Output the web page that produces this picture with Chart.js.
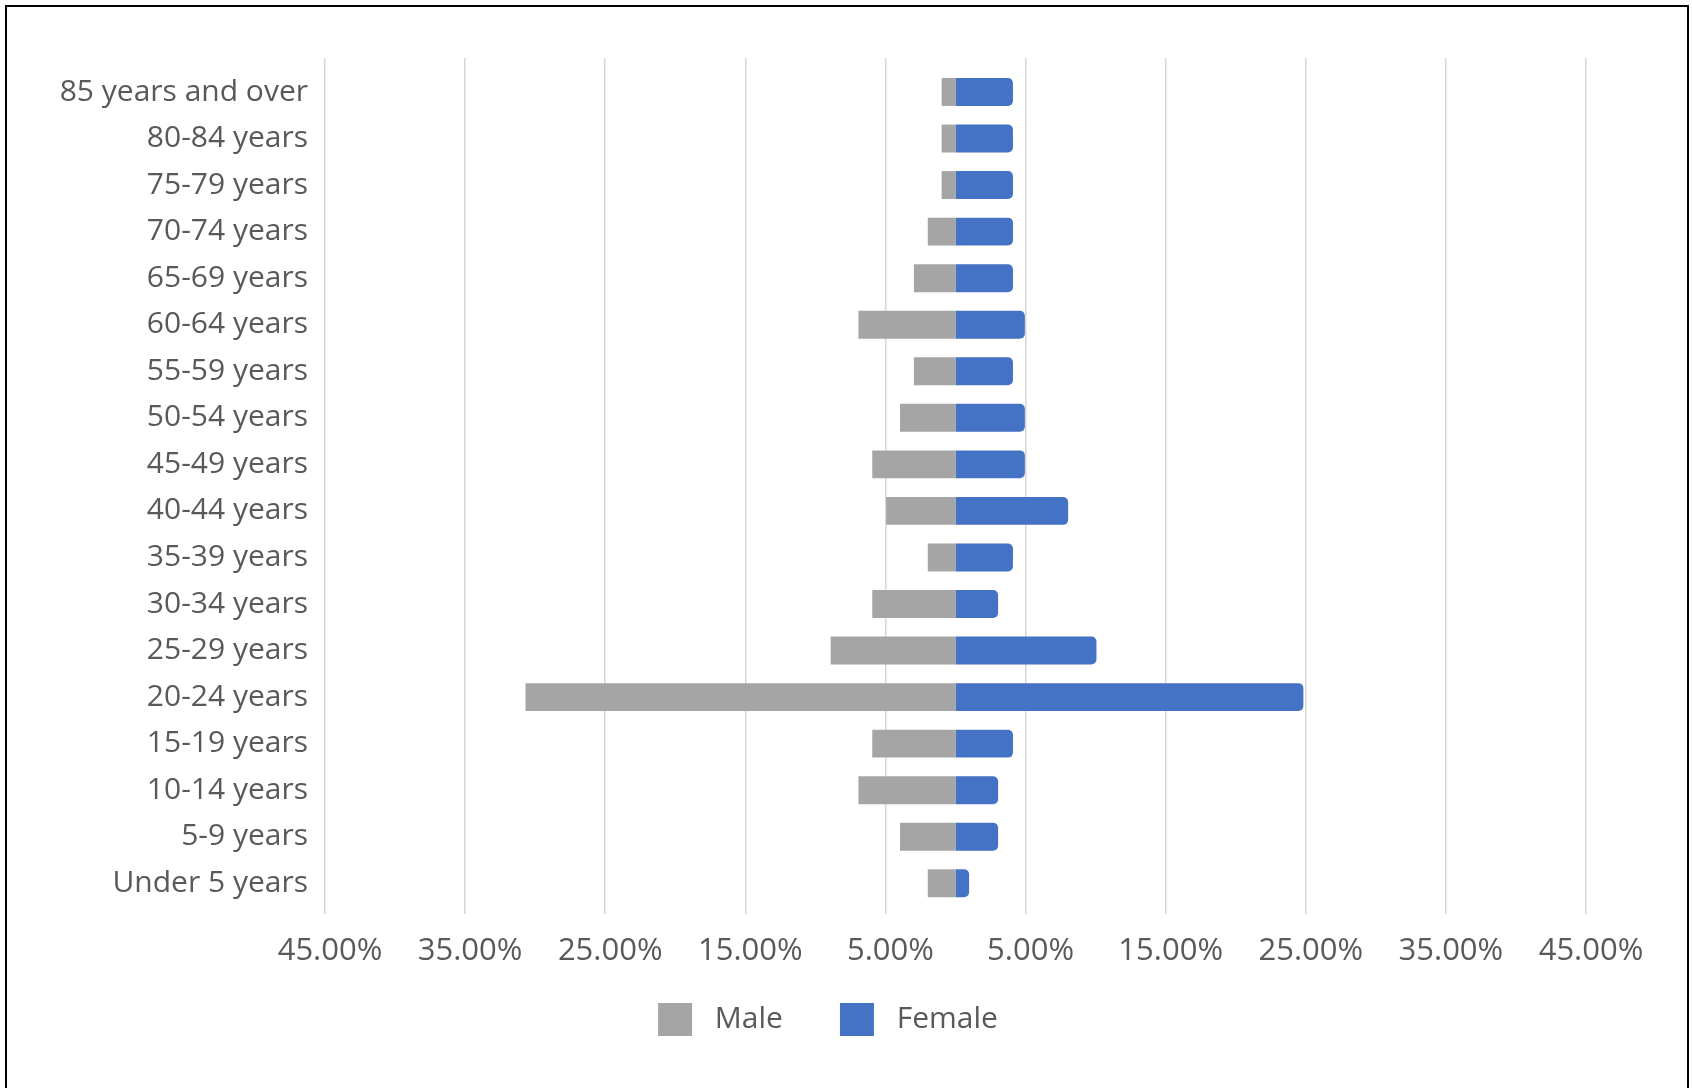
<!DOCTYPE html>
<html>
<head>
<meta charset="utf-8">
<title>Population by age and sex</title>
<script src="https://cdn.jsdelivr.net/npm/chart.js@4.4.1/dist/chart.umd.min.js"></script>
<style>
  html, body { margin: 0; padding: 0; background: #ffffff; }
  #wrap { position: relative; width: 1692px; height: 1088px; overflow: hidden; }
  #frame {
    position: absolute; left: 5px; top: 5px; width: 1684px; height: 1100px;
    box-sizing: border-box; border: 2px solid #000; border-bottom: none;
    pointer-events: none;
  }
  canvas { position: absolute; left: 0; top: 0; }
</style>
</head>
<body>
<div id="wrap">
  <canvas id="pyramid" width="1692" height="1088"></canvas>
  <div id="frame"></div>
</div>
<script>
// Age groups, oldest at the top
const ageGroups = [
  '85 years and over', '80-84 years', '75-79 years', '70-74 years',
  '65-69 years', '60-64 years', '55-59 years', '50-54 years',
  '45-49 years', '40-44 years', '35-39 years', '30-34 years',
  '25-29 years', '20-24 years', '15-19 years', '10-14 years',
  '5-9 years', 'Under 5 years'
];

// Share of each sex in each age group, in percent
const malePct = [
  0.99, 0.99, 0.99, 1.98, 2.97, 6.93, 2.97, 3.96, 5.94,
  4.95, 1.98, 5.94, 8.91, 30.69, 5.94, 6.93, 3.96, 1.98
];
const femalePct = [
  4.10, 4.10, 4.10, 4.10, 4.10, 4.95, 4.10, 4.95, 4.95,
  8.04, 4.10, 3.04, 10.06, 24.83, 4.10, 3.04, 3.04, 0.97
];

// Value axis ticks (percent); shown without sign on both sides
const xTicks = [-45, -35, -25, -15, -5, 5, 15, 25, 35, 45];

const seriesNames = ['Male', 'Female'];
const seriesColors = ['#a5a5a5', '#4472c4'];

const textColor = '#595959';
const fontFamily = "'Open Sans', 'Noto Sans', sans-serif";

// Males plotted to the left of zero, females to the right
const maleData = ageGroups.map((_, i) => ({ y: i, x: -malePct[i] }));
const femaleData = ageGroups.map((_, i) => ({ y: i, x: femalePct[i] }));

new Chart(document.getElementById('pyramid'), {
  type: 'bar',
  data: {
    datasets: [
      {
        label: seriesNames[0],
        data: maleData,
        backgroundColor: seriesColors[0],
        borderWidth: 0,
        borderRadius: 0,
        barPercentage: 0.6,
        categoryPercentage: 1
      },
      {
        label: seriesNames[1],
        data: femaleData,
        backgroundColor: seriesColors[1],
        borderWidth: 0,
        borderRadius: 5,
        borderSkipped: 'start',
        barPercentage: 0.6,
        categoryPercentage: 1
      }
    ]
  },
  options: {
    indexAxis: 'y',
    responsive: false,
    animation: false,
    layout: { padding: { top: 58, left: 0, right: 36, bottom: 42 } },
    plugins: {
      tooltip: { enabled: false },
      legend: {
        position: 'bottom',
        labels: {
          color: textColor,
          font: { family: fontFamily, size: 30 },
          boxWidth: 34,
          boxHeight: 33,
          padding: 57,
          useBorderRadius: true,
          borderRadius: 3,
          generateLabels(chart) {
            return chart.data.datasets.map((ds, i) => ({
              text: ' ' + ds.label,
              fillStyle: ds.backgroundColor,
              strokeStyle: ds.backgroundColor,
              lineWidth: 0,
              hidden: false,
              datasetIndex: i,
              fontColor: textColor
            }));
          }
        }
      }
    },
    scales: {
      x: {
        type: 'linear',
        stacked: true,
        min: -45,
        max: 45,
        afterBuildTicks(scale) {
          scale.ticks = xTicks.map(v => ({ value: v }));
        },
        afterFit(scale) { scale.height = 32; },
        ticks: {
          color: textColor,
          font: { family: fontFamily, size: 31 },
          // mirrored labels are not clipped to the thin axis box;
          // the negative padding moves them back below the plot
          mirror: true,
          padding: -56,
          labelOffset: 5,
          maxRotation: 0,
          autoSkip: false,
          callback: v => Math.abs(v).toFixed(2) + '%'
        },
        grid: { color: '#d6d6d6', lineWidth: 1.5, drawTicks: false },
        border: { display: false }
      },
      y: {
        type: 'linear',
        stacked: true,
        reverse: true,
        offset: false,
        min: -0.73,
        max: 17.66,
        afterBuildTicks(scale) {
          scale.ticks = ageGroups.map((_, i) => ({ value: i }));
        },
        afterFit(scale) { scale.width = 325; },
        ticks: {
          color: textColor,
          font: { family: fontFamily, size: 30 },
          padding: 17,
          autoSkip: false,
          callback: v => ageGroups[v]
        },
        grid: { display: false, drawTicks: false },
        border: { display: false }
      },
      rightGap: {
        type: 'linear',
        position: 'right',
        display: true,
        afterFit(scale) { scale.width = 70; },
        ticks: { display: false },
        grid: { display: false, drawTicks: false },
        border: { display: false }
      }
    }
  }
});
</script>
</body>
</html>
